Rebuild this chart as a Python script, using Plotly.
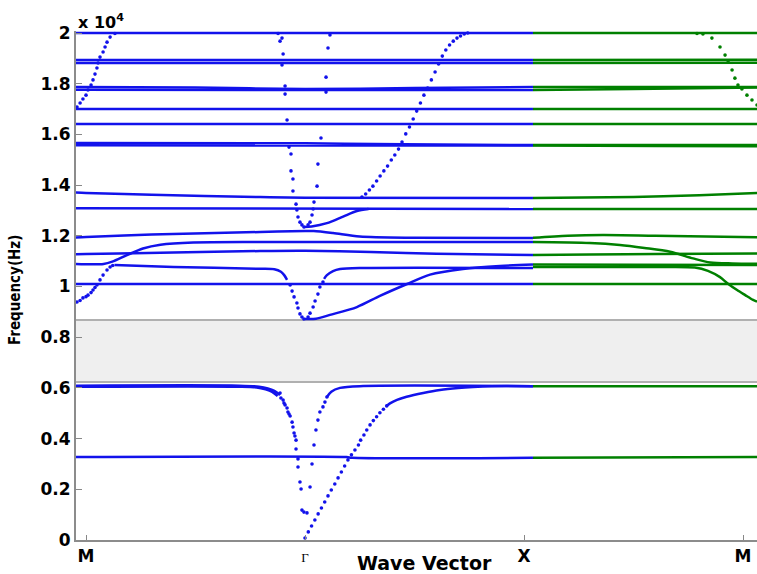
import plotly.graph_objects as go

# ---------------------------------------------------------------------------
# Band structure data: wave-vector coordinate k along M -> Γ -> X -> M
# (M = 0, Γ = 1, X = 2, M = 3), frequency f in units of 10^4 Hz.
# ---------------------------------------------------------------------------
K_TICKS = [0, 1, 2, 3]
K_LABELS = ["M", "Γ", "X", "M"]
F_TICKS = [0, 0.2, 0.4, 0.6, 0.8, 1.0, 1.2, 1.4, 1.6, 1.8, 2.0]
F_LABELS = ["0", "0.2", "0.4", "0.6", "0.8", "1", "1.2", "1.4", "1.6", "1.8", "2"]
BAND_GAP = [0.623, 0.868]

# --- M -> Γ -> X branches (continuous parts) --------------------------------
b_200 = [(-0.046, 2.0), (2.041, 2.0)]
b_189a = [(-0.046, 1.894), (2.041, 1.894)]
b_189b = [(-0.046, 1.882), (2.041, 1.882)]
b_179a = [(-0.046, 1.787), (0.5, 1.785), (1.0, 1.779), (1.5, 1.783), (2.041, 1.787)]
b_179b = [(-0.046, 1.776), (2.041, 1.775)]
b_170 = [(-0.046, 1.700), (2.041, 1.700)]
b_164 = [(-0.046, 1.641), (2.041, 1.641)]
b_156a = [(-0.046, 1.566), (1.0, 1.565), (1.45, 1.561), (2.041, 1.558)]
b_156b = [(-0.046, 1.557), (2.041, 1.556)]
b_135 = [(-0.046, 1.371), (0.0, 1.369), (0.3, 1.362), (0.795, 1.353), (1.0, 1.350), (2.041, 1.349)]
b_131 = [(-0.046, 1.309), (2.041, 1.306)]
b_vtop = [(0.995, 1.235), (1.03, 1.237), (1.10, 1.250), (1.174, 1.276), (1.237, 1.298), (1.29, 1.306)]
b_121 = [(-0.046, 1.193), (0.0, 1.195), (0.3, 1.205), (0.795, 1.215), (1.0, 1.219), (1.04, 1.219),
         (1.128, 1.211), (1.25, 1.197), (1.5, 1.192), (2.041, 1.191)]
b_118 = [(-0.046, 1.089), (0.08, 1.089), (0.12, 1.098), (0.187, 1.124), (0.26, 1.150), (0.34, 1.165),
         (0.49, 1.174), (0.8, 1.176), (2.041, 1.176)]
b_113 = [(-0.046, 1.127), (0.0, 1.128), (0.4, 1.134), (0.795, 1.140), (1.0, 1.141), (1.3, 1.136),
         (1.6, 1.129), (2.041, 1.124)]
b_108 = [(0.13, 1.085), (0.4, 1.077), (0.795, 1.070), (0.86, 1.068), (0.89, 1.058), (0.905, 1.045),
         (0.918, 1.026)]
b_101 = [(-0.046, 1.010), (2.041, 1.010)]
b_107r = [(1.087, 1.030), (1.10, 1.045), (1.128, 1.061), (1.16, 1.069), (1.265, 1.073), (2.041, 1.073)]
b_087 = [(1.0, 0.872), (1.05, 0.873), (1.114, 0.888), (1.237, 0.919), (1.342, 0.963), (1.466, 1.010),
         (1.571, 1.047), (1.721, 1.069), (1.89, 1.081), (2.041, 1.087)]
b_061a = [(-0.046, 0.609), (0.70, 0.609), (0.79, 0.605), (0.83, 0.598), (0.86, 0.588), (0.886, 0.572)]
b_061b = [(-0.046, 0.605), (0.70, 0.605), (0.78, 0.602), (0.82, 0.594), (0.85, 0.584), (0.875, 0.568)]
b_061r = [(1.100, 0.564), (1.12, 0.585), (1.16, 0.600), (1.25, 0.607), (2.041, 0.607)]
b_acou = [(1.373, 0.529), (1.388, 0.539), (1.42, 0.553), (1.464, 0.565), (1.54, 0.580), (1.616, 0.592),
          (1.70, 0.600), (1.767, 0.604), (1.85, 0.607), (2.041, 0.607)]
b_033 = [(-0.046, 0.327), (1.19, 0.327), (1.215, 0.324), (2.041, 0.324)]

# --- M -> Γ -> X sampled points on steep branches ---------------------------
dk_top_left = [-0.041, -0.027, -0.014, 0.000, 0.009, 0.023, 0.032, 0.041, 0.050, 0.055, 0.064, 0.078,
               0.087, 0.096, 0.110, 0.132]
df_top_left = [1.708, 1.724, 1.740, 1.755, 1.775, 1.795, 1.815, 1.838, 1.862, 1.882, 1.905, 1.925,
               1.945, 1.964, 1.984, 1.998]

dk_low_left = [-0.041, -0.027, -0.014, 0.000, 0.009, 0.023, 0.032, 0.041, 0.050, 0.064, 0.078, 0.096,
               0.110, 0.122]
df_low_left = [0.939, 0.945, 0.955, 0.960, 0.966, 0.976, 0.986, 0.996, 1.006, 1.026, 1.045, 1.065,
               1.077, 1.083]

dk_gx_steep = [1.260, 1.277, 1.294, 1.310, 1.327, 1.343, 1.360, 1.377, 1.394, 1.410, 1.427, 1.443,
               1.460, 1.477, 1.494, 1.510, 1.527, 1.543, 1.560, 1.577, 1.594, 1.610, 1.627, 1.643,
               1.660, 1.677, 1.694, 1.710, 1.727, 1.743]
df_gx_steep = [1.353, 1.365, 1.381, 1.396, 1.416, 1.436, 1.456, 1.475, 1.499, 1.519, 1.542, 1.570,
               1.602, 1.629, 1.661, 1.692, 1.724, 1.755, 1.783, 1.815, 1.846, 1.878, 1.909, 1.933,
               1.953, 1.968, 1.980, 1.988, 1.996, 2.000]

dk_acoustic = [1.000, 1.015, 1.030, 1.045, 1.060, 1.075, 1.090, 1.105, 1.120, 1.136, 1.151, 1.166,
               1.181, 1.196, 1.212, 1.228, 1.244, 1.254, 1.269, 1.282, 1.297, 1.312, 1.327, 1.342,
               1.358, 1.373]
df_acoustic = [0.008, 0.032, 0.055, 0.079, 0.103, 0.126, 0.150, 0.174, 0.197, 0.221, 0.245, 0.268,
               0.292, 0.316, 0.336, 0.355, 0.375, 0.394, 0.414, 0.434, 0.454, 0.471, 0.486, 0.502,
               0.516, 0.529]

# points scattered around Γ (left and right arms of the resonance dips)
dk_gamma_hi = [0.877, 0.895, 0.886, 0.900, 0.895, 0.909, 0.909, 0.918, 0.927, 0.936, 0.936, 0.945,
               0.945, 0.959, 0.963, 0.968, 0.977, 0.986, 0.995,
               1.114, 1.105, 1.096, 1.096, 1.073, 1.059, 1.055, 1.041, 1.037, 1.032, 1.023, 1.014]
df_gamma_hi = [1.998, 1.980, 1.968, 1.917, 1.874, 1.791, 1.759, 1.657, 1.550, 1.523, 1.456, 1.424,
               1.377, 1.325, 1.302, 1.274, 1.254, 1.243, 1.235,
               1.992, 1.941, 1.826, 1.767, 1.586, 1.483, 1.396, 1.333, 1.306, 1.282, 1.254, 1.243]

dk_gamma_mid = [0.932, 0.941, 0.950, 0.963, 0.968, 0.977, 0.986, 0.995,
                1.082, 1.068, 1.059, 1.046, 1.037, 1.023, 1.014]
df_gamma_mid = [1.006, 0.982, 0.959, 0.935, 0.915, 0.892, 0.880, 0.872,
                1.018, 0.998, 0.970, 0.943, 0.919, 0.895, 0.880]

dk_gamma_lo = [0.886, 0.890, 0.900, 0.904, 0.909, 0.918, 0.922, 0.927, 0.932, 0.941, 0.945, 0.950,
               0.954, 0.959, 0.959, 0.968, 0.968, 0.977, 0.982, 0.986, 0.995, 1.009,
               1.023, 1.032, 1.041, 1.050, 1.059, 1.068, 1.082, 1.091, 1.100]
df_gamma_lo = [0.580, 0.560, 0.552, 0.540, 0.533, 0.521, 0.505, 0.497, 0.489, 0.465, 0.446, 0.422,
               0.410, 0.394, 0.359, 0.320, 0.288, 0.229, 0.201, 0.118, 0.110, 0.107,
               0.209, 0.300, 0.375, 0.434, 0.473, 0.505, 0.525, 0.544, 0.564]

# --- X -> M branches ---------------------------------------------------------
g_200 = [(2.041, 2.0), (3.064, 2.0)]
g_189a = [(2.041, 1.894), (3.064, 1.895)]
g_189b = [(2.041, 1.882), (3.064, 1.883)]
g_179a = [(2.041, 1.787), (3.064, 1.787)]
g_179b = [(2.041, 1.775), (2.5, 1.779), (3.064, 1.785)]
g_170 = [(2.041, 1.700), (3.064, 1.700)]
g_164 = [(2.041, 1.641), (3.064, 1.641)]
g_156a = [(2.041, 1.558), (3.064, 1.558)]
g_156b = [(2.041, 1.556), (2.6, 1.554), (3.064, 1.553)]
g_135 = [(2.041, 1.349), (2.5, 1.353), (2.8, 1.360), (3.064, 1.369)]
g_131 = [(2.041, 1.306), (3.064, 1.306)]
g_120 = [(2.041, 1.192), (2.2, 1.200), (2.36, 1.203), (2.6, 1.200), (3.064, 1.194)]
g_118 = [(2.041, 1.176), (2.3, 1.172), (2.438, 1.164), (2.55, 1.152), (2.667, 1.137), (2.772, 1.111),
         (2.85, 1.095), (2.95, 1.091), (3.064, 1.090)]
g_113 = [(2.041, 1.124), (2.3, 1.126), (2.6, 1.128), (3.064, 1.130)]
g_109 = [(2.041, 1.087), (2.5, 1.086), (3.064, 1.085)]
g_107 = [(2.041, 1.077), (2.6, 1.077), (2.78, 1.075), (2.84, 1.062), (2.895, 1.037), (2.93, 1.012),
         (2.973, 0.986), (3.01, 0.966), (3.046, 0.947), (3.064, 0.940)]
g_101 = [(2.041, 1.010), (3.064, 1.010)]
g_061 = [(2.041, 0.607), (3.064, 0.607)]
g_033 = [(2.041, 0.324), (3.064, 0.327)]

dk_top_right = [2.790, 2.817, 2.858, 2.895, 2.918, 2.932, 2.950, 2.963, 2.977, 2.995, 3.018, 3.041, 3.064]
df_top_right = [1.998, 1.996, 1.980, 1.945, 1.913, 1.886, 1.854, 1.822, 1.795, 1.779, 1.755, 1.736, 1.716]

BLUE = "rgb(18,18,235)"
GREEN = "rgb(0,128,0)"

blue_branches = [b_200, b_189a, b_189b, b_179a, b_179b, b_170, b_164, b_156a, b_156b, b_135, b_131,
                 b_vtop, b_121, b_118, b_113, b_108, b_101, b_107r, b_087, b_061a, b_061b, b_061r,
                 b_acou, b_033]
green_branches = [g_200, g_189a, g_189b, g_179a, g_179b, g_170, g_164, g_156a, g_156b, g_135, g_131,
                  g_120, g_118, g_113, g_109, g_107, g_101, g_061, g_033]
blue_points = [(dk_top_left, df_top_left), (dk_low_left, df_low_left), (dk_gx_steep, df_gx_steep),
               (dk_acoustic, df_acoustic), (dk_gamma_hi, df_gamma_hi), (dk_gamma_mid, df_gamma_mid),
               (dk_gamma_lo, df_gamma_lo)]
green_points = [(dk_top_right, df_top_right)]

fig = go.Figure()


def add_branch(points, color):
    ks = [p[0] for p in points]
    fs = [p[1] for p in points]
    fig.add_trace(go.Scatter(x=ks, y=fs, mode="lines",
                             line=dict(color=color, width=2.5, shape="spline", smoothing=0.8),
                             hoverinfo="skip", showlegend=False))


def add_points(ks, fs, color):
    fig.add_trace(go.Scatter(x=ks, y=fs, mode="markers",
                             marker=dict(color=color, size=3.6, line=dict(width=0)),
                             hoverinfo="skip", showlegend=False, cliponaxis=True))


for br in blue_branches:
    add_branch(br, BLUE)
for ks, fs in blue_points:
    add_points(ks, fs, BLUE)
for br in green_branches:
    add_branch(br, GREEN)
for ks, fs in green_points:
    add_points(ks, fs, GREEN)

# band gap: shaded strip with edges at its lower and upper frequency
fig.add_shape(type="rect", xref="paper", yref="y", x0=0, x1=1, y0=BAND_GAP[0], y1=BAND_GAP[1],
              fillcolor="#efefef", line=dict(width=0), layer="below")
for edge in BAND_GAP:
    fig.add_shape(type="line", xref="paper", yref="y", x0=0, x1=1, y0=edge, y1=edge,
                  line=dict(color="#b0b0b0", width=2), layer="below")

# plot-area geometry in pixels
W, H = 757, 574
ML, MR, MT, MB = 76, 0, 31, 34
PW, PH = W - ML - MR, H - MT - MB


def px(x):
    return (x - ML) / PW


def py(y):
    return (H - MB - y) / PH


TICK_FONT = dict(family="DejaVu Sans", size=17, color="black", weight="bold")
GAMMA_STYLE = "font-family:'Liberation Serif';font-weight:normal;font-size:13px"
x_ticktext = [f"<span style=\"{GAMMA_STYLE}\">{t}</span>" if t == "Γ" else t for t in K_LABELS]

fig.update_layout(
    width=W, height=H,
    margin=dict(l=ML, r=MR, t=MT, b=MB, pad=0),
    paper_bgcolor="white", plot_bgcolor="white",
    xaxis=dict(range=[-0.0457, 3.0639], tickvals=K_TICKS, ticktext=x_ticktext,
               ticks="inside", ticklen=5, tickwidth=1, tickcolor="#888888",
               showline=True, linecolor="#8c8c8c", linewidth=2, showgrid=False, zeroline=False,
               tickfont=TICK_FONT),
    yaxis=dict(range=[0, 2.008], tickvals=F_TICKS, ticktext=F_LABELS,
               ticks="inside", ticklen=6, tickwidth=1, tickcolor="#888888",
               showline=True, linecolor="#8c8c8c", linewidth=2, showgrid=False, zeroline=False,
               tickfont=TICK_FONT),
)

fig.add_annotation(xref="paper", yref="paper", x=px(424), y=py(563), text="Wave Vector", showarrow=False,
                   font=dict(family="DejaVu Sans", size=19, color="black", weight="bold"),
                   xanchor="center", yanchor="middle")
fig.add_annotation(xref="paper", yref="paper", x=px(15), y=py(290), text="Frequency(Hz)", showarrow=False,
                   textangle=-90,
                   font=dict(family="DejaVu Sans Condensed, DejaVu Sans", size=15, color="black", weight="bold"),
                   xanchor="center", yanchor="middle")
fig.add_annotation(xref="paper", yref="paper", x=px(76), y=py(21), text="x 10<sup>4</sup>", showarrow=False,
                   font=dict(family="DejaVu Sans", size=16, color="black", weight="bold"),
                   xanchor="left", yanchor="middle")

fig.write_html("out.html")
